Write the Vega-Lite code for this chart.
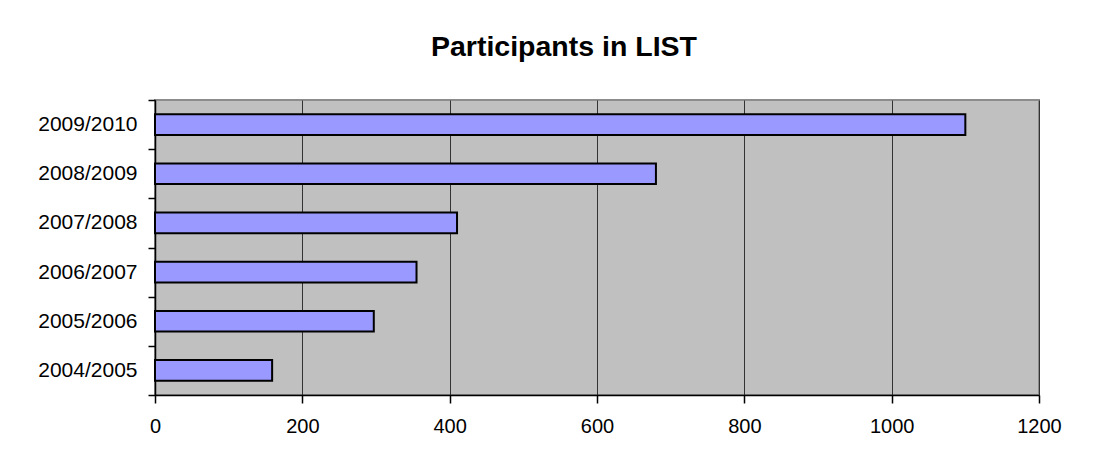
{
  "$schema": "https://vega.github.io/schema/vega-lite/v6.json",
  "autosize": "none",
  "width": 884,
  "height": 295,
  "padding": {"left": 155, "top": 100, "right": 70, "bottom": 65},
  "background": "white",
  "title": {
    "text": "Participants in LIST",
    "font": "Liberation Sans",
    "fontSize": 28.5,
    "fontWeight": "bold",
    "color": "black",
    "anchor": "middle",
    "baseline": "alphabetic",
    "offset": 5,
    "dx": -33
  },
  "data": {
    "values": [
      {"season": "2004/2005", "participants": 159},
      {"season": "2005/2006", "participants": 297},
      {"season": "2006/2007", "participants": 355},
      {"season": "2007/2008\u2002", "participants": 410},
      {"season": "2008/2009", "participants": 680},
      {"season": "2009/2010", "participants": 1100}
    ]
  },
  "mark": {"type": "bar", "fill": "#9999FF", "stroke": "black", "strokeWidth": 2, "height": {"band": 0.42}},
  "encoding": {
    "y": {
      "field": "season",
      "type": "nominal",
      "sort": ["2009/2010", "2008/2009", "2007/2008\u2002", "2006/2007", "2005/2006", "2004/2005"],
      "scale": {"paddingInner": 0, "paddingOuter": 0},
      "axis": {
        "title": null,
        "tickBand": "extent",
        "domainColor": "black",
        "domainWidth": 1.5,
        "tickColor": "black",
        "tickSize": 7,
        "tickWidth": 1.5,
        "labelFont": "Liberation Sans",
        "labelFontSize": 21,
        "labelColor": "black",
        "labelPadding": 11
      }
    },
    "x": {
      "field": "participants",
      "type": "quantitative",
      "scale": {"domain": [0, 1200], "nice": false},
      "axis": {
        "title": null,
        "values": [0, 200, 400, 600, 800, 1000, 1200],
        "format": "d",
        "grid": true,
        "gridColor": "#333333",
        "gridWidth": 1,
        "domainColor": "black",
        "domainWidth": 1.5,
        "tickColor": "black",
        "tickSize": 8,
        "tickWidth": 1.5,
        "labelFont": "Liberation Sans",
        "labelFontSize": 20,
        "labelColor": "black",
        "labelPadding": 13,
        "labelFlush": false
      }
    }
  },
  "config": {
    "view": {"fill": "#C0C0C0", "stroke": "#8C8C8C", "strokeWidth": 2}
  }
}
